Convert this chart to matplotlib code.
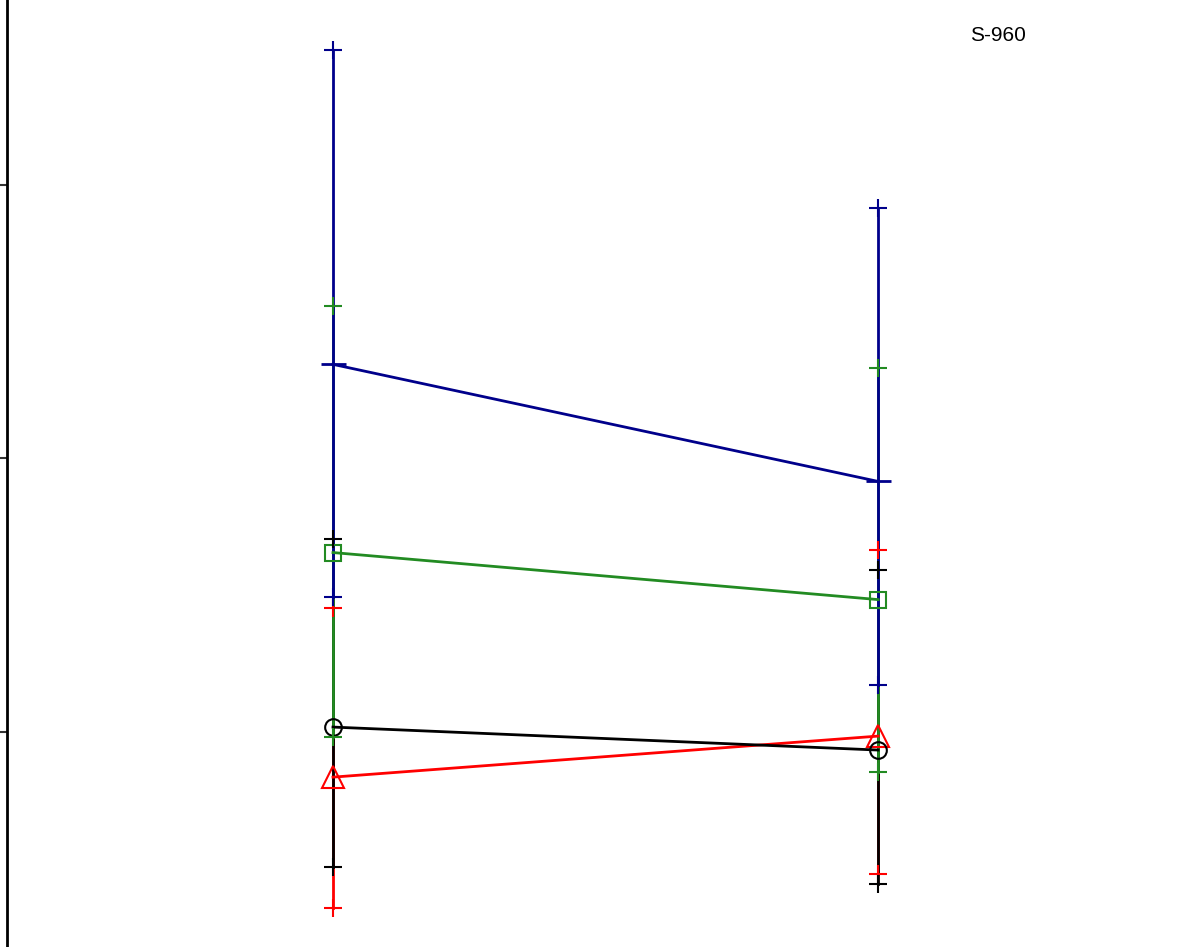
import matplotlib
matplotlib.use("Agg")
import matplotlib.pyplot as plt

# positions of the two groups
groups = [1, 2]
panel_label = "S-960"

# series: mean, upper and lower error limits (arbitrary units, ticks at 1, 2, 3)
blue_mean = [2.344, 1.916]
blue_hi = [3.492, 2.916]
blue_lo = [1.493, 1.172]

green_mean = [1.656, 1.484]
green_hi = [2.559, 2.331]
green_lo = [0.982, 0.854]

black_mean = [1.018, 0.934]
black_hi = [1.706, 1.592]
black_lo = [0.507, 0.444]

red_mean = [0.835, 0.985]
red_hi = [1.453, 1.667]
red_lo = [0.355, 0.481]

series = [
    ("red", red_mean, red_lo, red_hi, "^", 16),
    ("black", black_mean, black_lo, black_hi, "o", 12),
    ("#228B22", green_mean, green_lo, green_hi, "s", 12),
    ("#00008B", blue_mean, blue_lo, blue_hi, "_", 18),
]

fig = plt.figure(figsize=(12.03, 9.47), dpi=100)
ax = fig.add_axes([7 / 1203, 0, 1196 / 1203, 1])

# error bar stems
for color, mean, lo, hi, m, ms in series:
    for x, l, h in zip(groups, lo, hi):
        ax.plot([x, x], [l, h], color=color, lw=2, zorder=2)

# mean lines and markers
for color, mean, lo, hi, m, ms in series:
    ax.plot(groups, mean, color=color, lw=2, zorder=3)
    ax.plot(groups, mean, linestyle="none", marker=m, markersize=ms,
            markerfacecolor="none", markeredgecolor=color,
            markeredgewidth=1.5 if m != "_" else 2, zorder=4)

# caps
for color, mean, lo, hi, m, ms in series:
    ax.plot(groups, lo, linestyle="none", marker="+", markersize=12.5,
            markeredgewidth=1.5, color=color, zorder=5)
    ax.plot(groups, hi, linestyle="none", marker="+", markersize=12.5,
            markeredgewidth=1.5, color=color, zorder=5)

ax.set_xlim(0.402, 2.596)
ax.set_ylim(0.214, 3.676)
ax.set_yticks([1, 2, 3])
ax.set_yticklabels([])
ax.set_xticks([])
for s in ["top", "right", "bottom"]:
    ax.spines[s].set_visible(False)
ax.spines["left"].set_linewidth(2)
ax.tick_params(axis="y", direction="out", length=7, width=1.5, color="#333333")

ax.text(0.829, 0.963, panel_label, transform=ax.transAxes, ha="center",
        va="center", fontsize=15, family="Liberation Sans")

fig.savefig("out.png", dpi=100)
